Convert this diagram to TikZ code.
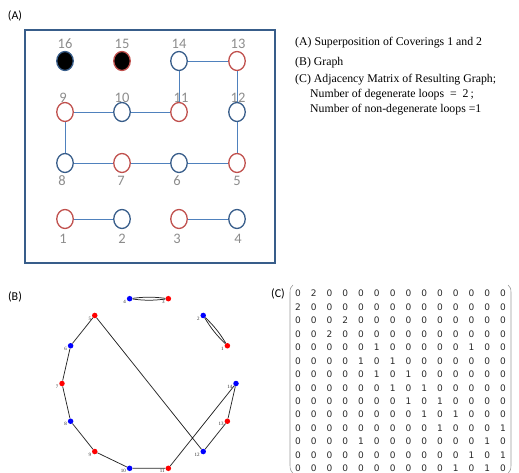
\documentclass[tikz,border=0pt]{standalone}
\usepackage{fontspec}
\setmainfont{Liberation Serif}
\newfontfamily\calfont{Carlito}
\newfontfamily\dvfont{DejaVu Sans}
\usetikzlibrary{matrix,shapes.geometric}
\definecolor{ored}{HTML}{C0504D}
\definecolor{oblue}{HTML}{385D8A}
\definecolor{oline}{HTML}{4F81BD}
\definecolor{lgray}{HTML}{8C8C8C}
\definecolor{mgray}{HTML}{2A2A2A}
\definecolor{pgray}{HTML}{9A9A9A}
\begin{document}
\begin{tikzpicture}[x=1pt,y=-1pt,
  rc/.style={ellipse, draw=ored, line width=1.3pt, minimum width=16.5pt, minimum height=19pt, inner sep=0pt, fill=white},
  bc/.style={ellipse, draw=oblue, line width=1.3pt, minimum width=16.5pt, minimum height=19pt, inner sep=0pt, fill=white},
  numA/.style={font=\calfont\fontsize{14.5}{14.5}\selectfont, text=lgray, inner sep=0pt},
  panel/.style={font=\calfont\fontsize{12}{12}\selectfont, inner sep=0pt},
  aedge/.style={draw=oline, line width=0.7pt},
  legend/.style={font=\fontsize{11.8}{11.8}\selectfont, anchor=west, inner sep=0pt},
  rdot/.style={circle, fill=red, minimum size=5.5pt, inner sep=0pt},
  bdot/.style={circle, fill=blue, minimum size=5.5pt, inner sep=0pt},
  lbB/.style={font=\fontsize{5}{5}\selectfont, text=mgray, inner sep=0pt, anchor=east},
  bedge/.style={draw=black!85, line width=0.75pt},
  paren/.style={draw=pgray, line width=0.6pt}
]
\useasboundingbox (0,0) rectangle (519,473);

% ---------- Panel A ----------
\node[panel] (tA) at (15,16) {(A)};
\node[draw=oblue, line width=1.8pt, minimum width=250pt, minimum height=233pt, inner sep=0pt] (boxA) at (150,146.5) {};

\node[ellipse, draw=oblue, line width=1.3pt, fill=black, minimum width=16.5pt, minimum height=19pt, inner sep=0pt] (a16) at (65,61) {};
\node[ellipse, draw=ored, line width=1.3pt, fill=black, minimum width=16.5pt, minimum height=19pt, inner sep=0pt] (a15) at (122,61) {};
\node[bc] (a14) at (179,61) {};
\node[rc] (a13) at (237,61) {};
\node[rc] (a9) at (65,112) {};
\node[bc] (a10) at (122,112) {};
\node[rc] (a11) at (179,112) {};
\node[bc] (a12) at (237,112) {};
\node[bc] (a8) at (65,163) {};
\node[rc] (a7) at (122,163) {};
\node[bc] (a6) at (179,163) {};
\node[rc] (a5) at (237,163) {};
\node[rc] (a1) at (65,219) {};
\node[bc] (a2) at (122,219) {};
\node[rc] (a3) at (179,219) {};
\node[bc] (a4) at (237,219) {};

\node[numA] (l16) at (65,44) {16};
\node[numA] (l15) at (122,44) {15};
\node[numA] (l14) at (179,44) {14};
\node[numA] (l13) at (238,44) {13};
\node[numA] (l9) at (63,98) {9};
\node[numA] (l10) at (122,98) {10};
\node[numA] (l11) at (181,98) {11};
\node[numA] (l12) at (238,98) {12};
\node[numA] (l8) at (62,181) {8};
\node[numA] (l7) at (121,181) {7};
\node[numA] (l6) at (177,181) {6};
\node[numA] (l5) at (237,181) {5};
\node[numA] (l1) at (63,239) {1};
\node[numA] (l2) at (122,239) {2};
\node[numA] (l3) at (177,239) {3};
\node[numA] (l4) at (238,239) {4};

\draw[aedge] (a14) -- (a13);
\draw[aedge] (a14) -- (a11);
\draw[aedge] (a13) -- (a12);
\draw[aedge] (a9) -- (a10);
\draw[aedge] (a10) -- (a11);
\draw[aedge] (a9) -- (a8);
\draw[aedge] (a12) -- (a5);
\draw[aedge] (a8) -- (a7);
\draw[aedge] (a7) -- (a6);
\draw[aedge] (a6) -- (a5);
\draw[aedge] (a1) -- (a2);
\draw[aedge] (a3) -- (a4);

% ---------- Legend ----------
\node[legend] (g1) at (295,43) {(A) Superposition of Coverings 1 and 2};
\node[legend] (g2) at (295,62.5) {(B) Graph};
\node[legend] (g3) at (295,80) {(C) Adjacency Matrix of Resulting Graph;};
\node[legend] (g4) at (310,95) {Number of degenerate loops\ \ =\ \ 2\,;};
\node[legend] (g5) at (310,109.5) {Number of non-degenerate loops =1};

% ---------- Panel B ----------
\node[panel] (tB) at (15,297) {(B)};
\foreach \k in {1,3,...,13} {
  \path (149,383.5) ++(-\k*360/14:87) node[rdot] (b\k) {};
}
\foreach \k in {2,4,...,14} {
  \path (149,383.5) ++(-\k*360/14:87) node[bdot] (b\k) {};
}
\draw[bedge] (b1) to[bend left=7] (b2);
\draw[bedge] (b1) to[bend right=7] (b2);
\draw[bedge] (b3) to[bend left=7] (b4);
\draw[bedge] (b3) to[bend right=7] (b4);
\draw[bedge] (b5) -- (b6) -- (b7) -- (b8) -- (b9) -- (b10) -- (b11) -- (b14) -- (b13) -- (b12) -- (b5);
\foreach \k in {1,...,14} {
  \node[lbB] (lb\k) at ([shift={(-3.5,3)}]b\k.center) {\k};
}

% ---------- Panel C ----------
\node[panel] (tC) at (278,294) {(C)};
\matrix (mat) [matrix of nodes, anchor=center, column sep=0pt, row sep=0pt,
  nodes={font=\dvfont\fontsize{9}{9}\selectfont, text=mgray, minimum width=15.77pt, minimum height=13.46pt, inner sep=0pt, anchor=center}]
  at (400.5,381) {
0 & 2 & 0 & 0 & 0 & 0 & 0 & 0 & 0 & 0 & 0 & 0 & 0 & 0 \\
2 & 0 & 0 & 0 & 0 & 0 & 0 & 0 & 0 & 0 & 0 & 0 & 0 & 0 \\
0 & 0 & 0 & 2 & 0 & 0 & 0 & 0 & 0 & 0 & 0 & 0 & 0 & 0 \\
0 & 0 & 2 & 0 & 0 & 0 & 0 & 0 & 0 & 0 & 0 & 0 & 0 & 0 \\
0 & 0 & 0 & 0 & 0 & 1 & 0 & 0 & 0 & 0 & 0 & 1 & 0 & 0 \\
0 & 0 & 0 & 0 & 1 & 0 & 1 & 0 & 0 & 0 & 0 & 0 & 0 & 0 \\
0 & 0 & 0 & 0 & 0 & 1 & 0 & 1 & 0 & 0 & 0 & 0 & 0 & 0 \\
0 & 0 & 0 & 0 & 0 & 0 & 1 & 0 & 1 & 0 & 0 & 0 & 0 & 0 \\
0 & 0 & 0 & 0 & 0 & 0 & 0 & 1 & 0 & 1 & 0 & 0 & 0 & 0 \\
0 & 0 & 0 & 0 & 0 & 0 & 0 & 0 & 1 & 0 & 1 & 0 & 0 & 0 \\
0 & 0 & 0 & 0 & 0 & 0 & 0 & 0 & 0 & 1 & 0 & 0 & 0 & 1 \\
0 & 0 & 0 & 0 & 1 & 0 & 0 & 0 & 0 & 0 & 0 & 0 & 1 & 0 \\
0 & 0 & 0 & 0 & 0 & 0 & 0 & 0 & 0 & 0 & 0 & 1 & 0 & 1 \\
0 & 0 & 0 & 0 & 0 & 0 & 0 & 0 & 0 & 0 & 1 & 0 & 1 & 0 \\
};
\draw[paren] (293,285) .. controls (290.5,286.5) and (290,289) .. (290,293) -- (290,465) .. controls (290,469) and (290.8,471.5) .. (293,473.5);
\draw[paren] (508,285) .. controls (510.5,286.5) and (511,289) .. (511,293) -- (511,465) .. controls (511,469) and (510.2,471.5) .. (508,473.5);
\end{tikzpicture}
\end{document}
